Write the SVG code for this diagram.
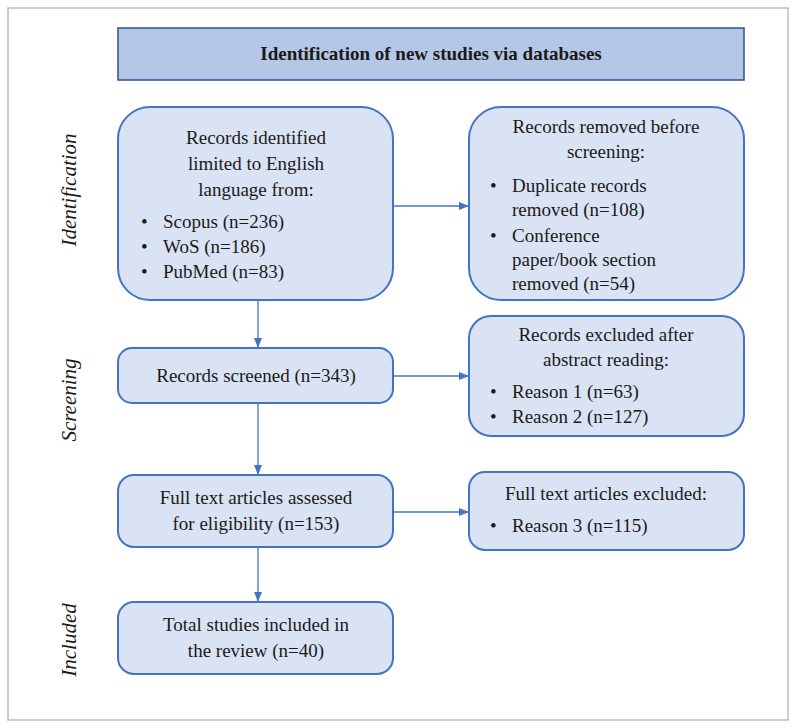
<svg xmlns="http://www.w3.org/2000/svg" width="796" height="728" viewBox="0 0 796 728">
<style>
text{font-family:"Liberation Serif","DejaVu Serif",serif;font-size:19px;fill:#1a1a1a}
.b{fill:#dae3f3;stroke:#4472c4;stroke-width:2}
.c{text-anchor:middle}
.s{font-style:italic;font-size:21px;text-anchor:middle}
.l{stroke:#4472c4;stroke-width:1.3;fill:none;marker-end:url(#a)}
</style>
<defs><marker id="a" markerWidth="10" markerHeight="8" refX="9" refY="4" orient="auto" markerUnits="userSpaceOnUse"><path d="M0,0L10,4L0,8z" fill="#4472c4"/></marker></defs>
<rect x="8" y="8" width="780" height="712" fill="#fff" stroke="#bdbdbd" stroke-width="1.5"/>
<g id="header"><rect x="118" y="28" width="626" height="52" fill="#b4c7e7" stroke="#2f528f" stroke-width="1.5"/><text x="431" y="60" class="c" font-weight="bold">Identification of new studies via databases</text></g>
<g id="labels"><text class="s" transform="translate(76,190) rotate(-90)">Identification</text><text class="s" transform="translate(76,400) rotate(-90)">Screening</text><text class="s" transform="translate(76,640) rotate(-90)">Included</text></g>
<g id="n1"><rect class="b" x="118" y="107" width="275" height="193" rx="32"/><text class="c" x="256" y="144">Records identified</text><text class="c" x="256" y="170">limited to English</text><text class="c" x="256" y="196">language from:</text><text x="141" y="228">•</text><text x="163" y="228">Scopus (n=236)</text><text x="141" y="253">•</text><text x="163" y="253">WoS (n=186)</text><text x="141" y="278">•</text><text x="163" y="278">PubMed (n=83)</text></g>
<g id="n2"><rect class="b" x="469" y="107" width="275" height="193" rx="32"/><text class="c" x="606" y="133">Records removed before</text><text class="c" x="606" y="158">screening:</text><text x="490" y="192">•</text><text x="512" y="192">Duplicate records</text><text x="512" y="216">removed (n=108)</text><text x="490" y="242">•</text><text x="512" y="242">Conference</text><text x="512" y="266">paper/book section</text><text x="512" y="290">removed (n=54)</text></g>
<g id="n3"><rect class="b" x="118" y="348" width="275" height="55" rx="14"/><text class="c" x="256" y="382">Records screened (n=343)</text></g>
<g id="n4"><rect class="b" x="469" y="316" width="275" height="120" rx="22"/><text class="c" x="606" y="341">Records excluded after</text><text class="c" x="606" y="366">abstract reading:</text><text x="490" y="398">•</text><text x="512" y="398">Reason 1 (n=63)</text><text x="490" y="423">•</text><text x="512" y="423">Reason 2 (n=127)</text></g>
<g id="n5"><rect class="b" x="118" y="475" width="275" height="72" rx="16"/><text class="c" x="256" y="504">Full text articles assessed</text><text class="c" x="256" y="530">for eligibility (n=153)</text></g>
<g id="n6"><rect class="b" x="469" y="472" width="275" height="78" rx="16"/><text class="c" x="606" y="500">Full text articles excluded:</text><text x="490" y="532">•</text><text x="512" y="532">Reason 3 (n=115)</text></g>
<g id="n7"><rect class="b" x="118" y="602" width="275" height="72" rx="16"/><text class="c" x="256" y="631">Total studies included in</text><text class="c" x="256" y="657">the review (n=40)</text></g>
<g id="connectors"><path class="l" d="M393,206H468"/><path class="l" d="M393,376H468"/><path class="l" d="M393,512H468"/><path class="l" d="M258,300V347"/><path class="l" d="M258,403V474"/><path class="l" d="M258,547V601"/></g>
</svg>
